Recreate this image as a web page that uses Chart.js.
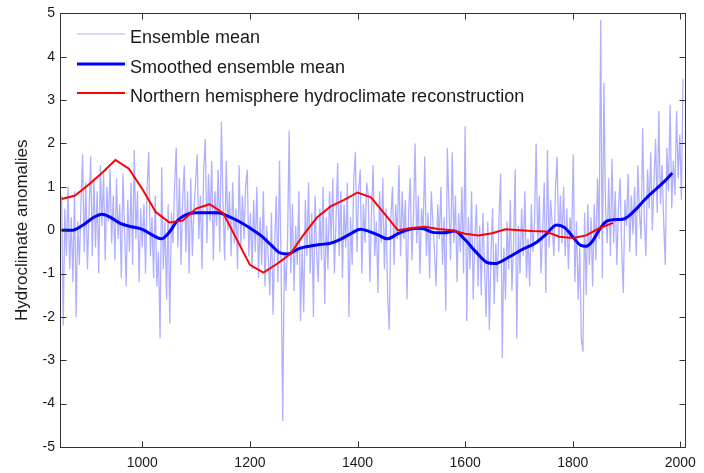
<!DOCTYPE html>
<html lang="en">
<head>
  <meta charset="UTF-8" />
  <title>Hydroclimate anomalies</title>
  <script src="https://cdn.jsdelivr.net/npm/chart.js"></script>
  <style>
    html, body { margin: 0; padding: 0; background: #ffffff; }
    #wrap { width: 704px; height: 473px; position: relative; }
  </style>
</head>
<body>
  <div id="wrap"><canvas id="chart"></canvas></div>

  <script>
    // ensemble mean, one value every 3 years from 850
    const ensembleStart = 850;
    const ensembleStep = 3;
    const ensembleValues = [
      0.8, -2.2, 0.5, -0.6, 1.0, -0.9, 0.3, -1.2, 0.9, -2.0,      // 850
      0.2, -0.8, 0.6, 1.75, -0.5, 1.1, -0.9, 0.4, 1.7, -0.6,      // 880
      1.2, -0.4, 0.9, -1.0, 1.5, 0.1, 1.3, -0.7, 1.0, 0.2,        // 910
      1.4, -0.3, 0.8, -0.7, 1.2, -0.2, 0.6, -1.1, 1.3, 0.0,       // 940
      -1.3, 0.7, -0.5, 1.1, -0.8, 1.85, -0.2, 0.9, -1.2, 0.5,     // 970
      -0.4, 0.6, -1.0, 1.0, 1.8, -0.6, 0.3, -1.1, 0.8, -1.3,      // 1000
      -0.5, -2.5, 1.45, -0.9, 0.2, -1.6, 0.6, -2.15, 0.4, -0.3,   // 1030
      1.0, 1.9, -0.4, 1.2, -0.8, 0.7, 1.5, -0.5, 0.9, -1.0,       // 1060
      1.2, -0.6, 0.5, 1.1, 1.75, -0.2, 0.8, -0.9, 1.4, 2.1,       // 1090
      -0.3, 1.3, 0.2, 1.6, -0.7, 0.9, 0.1, 1.4, -0.5, 2.5,        // 1120
      0.6, -0.7, 1.6, 0.0, 0.9, -0.6, 1.1, -0.3, 0.5, -0.9,       // 1150
      1.5, -0.4, 0.8, -0.2, 1.0, 1.4, -0.6, 0.4, -0.9, 0.7,       // 1180
      -0.5, 1.0, -1.1, 0.3, -0.8, 0.9, -1.3, 0.1, -0.6, -1.5,     // 1210
      0.4, -1.95, -0.3, 0.8, -1.2, 1.6, -0.9, -4.4, -0.5, -1.4,   // 1240
      -0.2, 2.3, -1.0, 0.6, -1.4, 0.1, -0.8, 0.9, -2.1, -0.4,     // 1270
      -1.9, 0.7, -0.6, 1.1, -1.0, 0.4, -2.0, 0.8, -0.5, -1.2,     // 1300
      0.5, -0.7, 1.0, -1.7, 0.3, -0.9, 0.9, -0.3, 1.2, -1.0,      // 1330
      0.2, 1.55, -0.6, 0.9, -1.1, 0.6, -0.4, 1.1, -2.0, 0.3,      // 1360
      -0.8, 1.2, 1.8, -0.5, 0.9, 1.4, -1.0, 0.6, -0.3, 1.1,       // 1390
      0.8, -1.2, 0.4, 1.5, -0.6, 0.2, -1.45, 0.9, -0.3, 1.2,      // 1420
      -0.9, 0.5, -1.5, -2.3, 0.3, 1.0, -0.8, 0.6, -0.2, 1.5,      // 1450
      -0.6, 0.9, -0.2, 0.7, -1.6, 0.4, 1.2, -0.7, 0.3, 2.0,       // 1480
      -0.3, 0.8, -1.0, 0.5, 0.0, 1.7, -0.6, 0.4, -1.1, 0.9,       // 1510
      0.2, -0.5, -1.3, 0.6, -0.2, 1.0, -0.8, 0.3, -1.85, 1.9,     // 1540
      0.5, -0.7, 1.8, -0.3, 0.8, -1.2, 0.4, -0.5, 1.0, -1.0,      // 1570
      2.4, -2.1, 0.3, -0.9, 0.9, -1.6, -0.2, 0.6, -1.3, 0.1,      // 1600
      -1.5, 0.4, -0.8, -2.0, 0.2, -2.3, -0.6, 0.5, -1.7, -0.3,    // 1630
      -1.2, 0.3, 1.3, -2.95, -0.4, -1.6, 0.2, -0.9, 0.7, -1.4,    // 1660
      -0.3, 1.4, -2.5, 0.1, -1.0, 0.5, -0.6, 0.9, -1.1, -0.2,     // 1690
      -1.3, 0.6, -0.5, 0.2, 2.0, -0.3, 0.8, -1.0, -0.1, 1.1,      // 1720
      -1.45, 1.85, -0.4, 0.7, 0.1, -0.6, 1.0, 1.7, -0.5, 0.8,     // 1750
      -0.3, 1.0, -0.6, 0.5, -0.9, 0.3, -0.2, 1.75, -1.2, 0.2,     // 1780
      -1.6, -0.4, -2.5, -2.8, 0.4, -1.5, 0.6, -0.8, 0.3, -1.3,    // 1810
      0.6, -0.7, 1.2, -0.2, 4.85, -1.1, 3.4, 0.5, -0.3, 1.2,      // 1840
      -0.6, 1.65, -0.3, 0.9, -0.8, 0.5, 1.2, -0.4, -1.45, 0.7,    // 1870
      0.1, 1.3, -0.5, 0.8, -0.1, 1.0, -0.6, 1.5, 0.4, -0.2,       // 1900
      2.35, 0.3, -0.6, 1.4, 0.5, 1.8, 0.0, 1.1, 2.1, 0.4,         // 1930
      2.75, 0.6, 1.5, 0.2, -0.8, 1.9, 0.9, 2.9, 0.5, 1.6,         // 1960
      0.8, 2.75, 1.2, 2.2, 0.7, 3.5                               // 1990
    ];

    const smoothYears = [850, 870, 890, 910, 925, 940, 960, 980, 1000, 1020, 1035, 1050, 1065, 1080, 1100, 1140,
      1160, 1180, 1200, 1220, 1240, 1255, 1270, 1290, 1310, 1330, 1350, 1370, 1390, 1405, 1420, 1440, 1455,
      1475, 1490, 1505, 1520, 1540, 1560, 1580, 1600, 1620, 1640, 1655, 1680, 1705, 1730, 1750, 1770, 1785,
      1800, 1815, 1825, 1835, 1850, 1862, 1875, 1895, 1915, 1935, 1955, 1970, 1985];
    const smoothValues = [0.0, 0.0, 0.12, 0.3, 0.37, 0.3, 0.15, 0.08, 0.02, -0.12, -0.2, -0.05, 0.22, 0.35, 0.4, 0.4,
      0.32, 0.2, 0.05, -0.12, -0.35, -0.52, -0.55, -0.43, -0.37, -0.33, -0.3, -0.2, -0.06, 0.02, -0.02, -0.12, -0.2,
      -0.08, 0.0, 0.04, 0.04, -0.05, -0.06, -0.02, -0.22, -0.5, -0.74, -0.77, -0.63, -0.45, -0.3, -0.1, 0.12, 0.06,
      -0.15, -0.35, -0.37, -0.28, 0.02, 0.2, 0.24, 0.26, 0.45, 0.72, 0.95, 1.12, 1.32];

    const reconYears = [850, 875, 900, 925, 950, 975, 1000, 1025, 1050, 1075, 1100, 1125, 1150, 1175, 1200, 1225,
      1250, 1275, 1300, 1325, 1350, 1375, 1400, 1425, 1450, 1475, 1500, 1525, 1550, 1575, 1600, 1625, 1650,
      1675, 1700, 1725, 1750, 1775, 1800, 1825, 1850, 1875];
    const reconValues = [0.72, 0.8, 1.05, 1.32, 1.62, 1.42, 0.95, 0.42, 0.18, 0.22, 0.5, 0.6, 0.4, -0.2, -0.8, -0.98,
      -0.78, -0.55, -0.1, 0.3, 0.55, 0.7, 0.87, 0.76, 0.38, 0.0, 0.05, 0.08, 0.03, 0.0, -0.08, -0.12, -0.07,
      0.02, 0.0, -0.02, -0.03, -0.15, -0.18, -0.12, 0.05, 0.17];

    const xTicks = [1000, 1200, 1400, 1600, 1800, 2000];
    const yTicks = [-5, -4, -3, -2, -1, 0, 1, 2, 3, 4, 5];
    const legendLabels = ["Ensemble mean", "Smoothed ensemble mean", "Northern hemisphere hydroclimate reconstruction"];

    const ensembleColor = "rgb(176,176,255)";
    const smoothColor = "#0000ff";
    const reconColor = "#ff0000";
    const axisColor = "#333333";
    const textColor = "#1a1a1a";
    const fontFamily = "'Liberation Sans', Arial, sans-serif";

    const ensembleData = ensembleValues.map((v, i) => ({ x: ensembleStart + i * ensembleStep, y: v }));
    const smoothData = smoothYears.map((yr, i) => ({ x: yr, y: smoothValues[i] }));
    const reconData = reconYears.map((yr, i) => ({ x: yr, y: reconValues[i] }));

    // box around the axes with inward ticks on all four sides
    const boxPlugin = {
      id: "boxPlugin",
      afterDatasetsDraw(chart) {
        const { ctx, chartArea: a, scales } = chart;
        const L = Math.round(a.left) + 0.5, R = Math.round(a.right) + 0.5;
        const T = Math.round(a.top) + 0.5, B = Math.round(a.bottom) + 0.5;
        ctx.save();
        ctx.strokeStyle = axisColor;
        ctx.lineWidth = 1;
        ctx.strokeRect(L, T, R - L, B - T);
        ctx.beginPath();
        xTicks.forEach((t) => {
          const px = Math.round(scales.x.getPixelForValue(t)) + 0.5;
          ctx.moveTo(px, B); ctx.lineTo(px, B - 6);
          ctx.moveTo(px, T); ctx.lineTo(px, T + 6);
        });
        yTicks.forEach((t) => {
          const py = Math.round(scales.y.getPixelForValue(t)) + 0.5;
          ctx.moveTo(L, py); ctx.lineTo(L + 6, py);
          ctx.moveTo(R, py); ctx.lineTo(R - 6, py);
        });
        ctx.stroke();
        ctx.restore();
      }
    };

    // legend sitting inside the top-left corner of the axes
    const legendPlugin = {
      id: "insideLegend",
      afterDraw(chart) {
        const { ctx } = chart;
        const colors = [ensembleColor, smoothColor, reconColor];
        const widths = [1, 3, 2];
        const lineY = [34, 64, 93];
        ctx.save();
        ctx.font = "18px " + fontFamily;
        ctx.fillStyle = textColor;
        ctx.textBaseline = "middle";
        legendLabels.forEach((label, i) => {
          ctx.strokeStyle = colors[i];
          ctx.lineWidth = widths[i];
          ctx.beginPath();
          ctx.moveTo(77, lineY[i]);
          ctx.lineTo(125, lineY[i]);
          ctx.stroke();
          ctx.fillText(label, 130, lineY[i] + 4);
        });
        ctx.restore();
      }
    };

    new Chart(document.getElementById("chart"), {
      type: "line",
      data: {
        datasets: [
          {
            label: legendLabels[0],
            data: ensembleData,
            borderColor: ensembleColor,
            borderWidth: 1.3,
            pointRadius: 0,
            tension: 0,
            order: 3
          },
          {
            label: legendLabels[1],
            data: smoothData,
            borderColor: smoothColor,
            borderWidth: 3,
            pointRadius: 0,
            cubicInterpolationMode: "monotone",
            order: 2
          },
          {
            label: legendLabels[2],
            data: reconData,
            borderColor: reconColor,
            borderWidth: 2,
            pointRadius: 0,
            tension: 0,
            order: 1
          }
        ]
      },
      options: {
        responsive: true,
        maintainAspectRatio: false,
        animation: false,
        layout: { padding: { top: 12, right: 12, left: 0, bottom: 0 } },
        plugins: {
          legend: { display: false },
          tooltip: { enabled: false }
        },
        scales: {
          x: {
            type: "linear",
            min: 847,
            max: 2009,
            afterBuildTicks: (scale) => { scale.ticks = xTicks.map((v) => ({ value: v })); },
            afterFit: (scale) => { scale.height = 26; },
            grid: { display: false, drawTicks: false },
            border: { display: false },
            ticks: {
              padding: 8,
              color: textColor,
              font: { family: fontFamily, size: 14 },
              maxRotation: 0,
              callback: (v) => String(v)
            }
          },
          y: {
            min: -5,
            max: 5,
            afterBuildTicks: (scale) => { scale.ticks = yTicks.map((v) => ({ value: v })); },
            afterFit: (scale) => { scale.width = 60; },
            grid: { display: false, drawTicks: false },
            border: { display: false },
            ticks: {
              padding: 5,
              color: textColor,
              font: { family: fontFamily, size: 14 }
            },
            title: {
              display: true,
              text: "Hydroclimate anomalies",
              color: textColor,
              font: { family: fontFamily, size: 17 },
              padding: { top: 12, bottom: 0 }
            }
          }
        }
      },
      plugins: [boxPlugin, legendPlugin]
    });
  </script>
</body>
</html>
